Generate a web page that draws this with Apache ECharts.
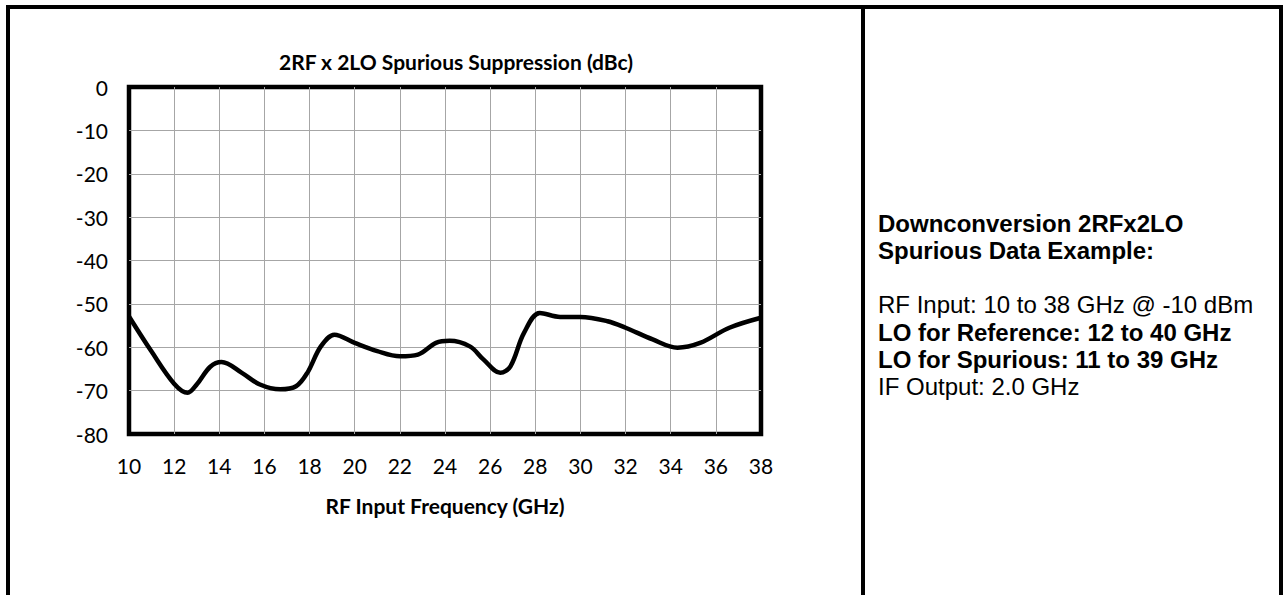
<!DOCTYPE html>
<html>
<head>
<meta charset="utf-8">
<script src="https://cdn.jsdelivr.net/npm/echarts@6/dist/echarts.min.js"></script>
<style>
html,body{margin:0;padding:0;background:#fff;}
#c{width:1287px;height:595px;}
</style>
</head>
<body>
<div id="c"></div>
<script>
// ---- data ----
const freqGHz = [10, 11, 12, 12.6, 13, 13.6, 14.1, 15, 15.8, 16.7, 17.4, 17.9, 18.5, 19.1, 20, 21, 22, 22.8, 23.6, 24.2, 25.1, 25.7, 26.45, 26.9, 27.5, 28.2, 29.1, 30, 31.2, 32, 33.2, 34.3, 35.3, 36.6, 38];
const suppressionDbc = [-52.9, -61.0, -68.4, -70.5, -68.6, -64.5, -63.4, -65.9, -68.6, -69.7, -69.0, -65.9, -59.8, -57.1, -59.0, -60.9, -62.1, -61.7, -59.0, -58.5, -59.8, -62.8, -65.9, -64.4, -56.7, -52.1, -53.0, -53.0, -54.0, -55.5, -58.2, -60.1, -59.0, -55.5, -53.2];
const xMin = 10, xMax = 38, xStep = 2;
const yMin = -80, yMax = 0, yStep = 10;
const chartTitle = '2RF x 2LO Spurious Suppression (dBc)';
const xAxisName = 'RF Input Frequency (GHz)';
const noteLines = [
  'Downconversion 2RFx2LO',
  'Spurious Data Example:',
  '',
  'RF Input: 10 to 38 GHz @ -10 dBm',
  'LO for Reference: 12 to 40 GHz',
  'LO for Spurious: 11 to 39 GHz',
  'IF Output: 2.0 GHz'
];
const noteBold = [true, true, false, false, true, true, false];

// ---- layout ----
const W = 1287, H = 595;
const plot = {left: 129, right: 761, top: 87, bottom: 434};
const calibriLike = 'Lato, "Noto Sans", sans-serif';
const arialLike = '"Liberation Sans", Arial, sans-serif';

const chart = echarts.init(document.getElementById('c'), null, {renderer: 'svg', width: W, height: H});

const graphics = [];
// outer table lines
graphics.push({type: 'line', shape: {x1: 6, y1: 7, x2: 1283, y2: 7}, style: {stroke: '#000', lineWidth: 4}, z: 100});
[8, 863, 1281].forEach(x => graphics.push({type: 'line', shape: {x1: x, y1: 5, x2: x, y2: H}, style: {stroke: '#000', lineWidth: 4}, z: 100}));
// right-hand notes
const noteLeft = 878, noteFirstBaseline = 230, noteLineH = 27.3;
noteLines.forEach((t, i) => {
  if (!t) return;
  graphics.push({
    type: 'text', left: noteLeft, top: noteFirstBaseline + i * noteLineH - 19,
    style: {text: t, fill: '#000', font: (noteBold[i] ? 'bold ' : '') + '24px ' + arialLike}
  });
});

const option = {
  animation: false,
  backgroundColor: '#fff',
  title: {
    text: chartTitle,
    left: 451, top: 46, textAlign: 'center',
    textStyle: {fontFamily: calibriLike, fontWeight: 'bold', fontSize: 21, color: '#000'}
  },
  grid: {
    left: plot.left, right: W - plot.right, top: plot.top, bottom: H - plot.bottom,
    show: true, borderColor: '#000', borderWidth: 4.5, backgroundColor: 'transparent'
  },
  xAxis: {
    type: 'value', min: xMin, max: xMax, interval: xStep,
    name: xAxisName, nameLocation: 'middle', nameGap: 61,
    nameTextStyle: {fontFamily: calibriLike, fontWeight: 'bold', fontSize: 21, color: '#000'},
    axisLine: {show: false}, axisTick: {show: false},
    axisLabel: {margin: 21, fontFamily: calibriLike, fontSize: 21, color: '#000'},
    splitLine: {show: true, showMinLine: false, showMaxLine: false, lineStyle: {color: '#a6a6a6', width: 1}}
  },
  yAxis: {
    type: 'value', min: yMin, max: yMax, interval: yStep,
    axisLine: {show: false}, axisTick: {show: false},
    axisLabel: {margin: 21, fontFamily: calibriLike, fontSize: 21, color: '#000'},
    splitLine: {show: true, showMinLine: false, showMaxLine: false, lineStyle: {color: '#a6a6a6', width: 1}}
  },
  series: [{
    type: 'line',
    data: freqGHz.map((f, i) => [f, suppressionDbc[i]]),
    smooth: 0.35,
    showSymbol: false,
    lineStyle: {color: '#000', width: 4.5},
    z: 5
  }],
  graphic: graphics
};
chart.setOption(option);
</script>
</body>
</html>
